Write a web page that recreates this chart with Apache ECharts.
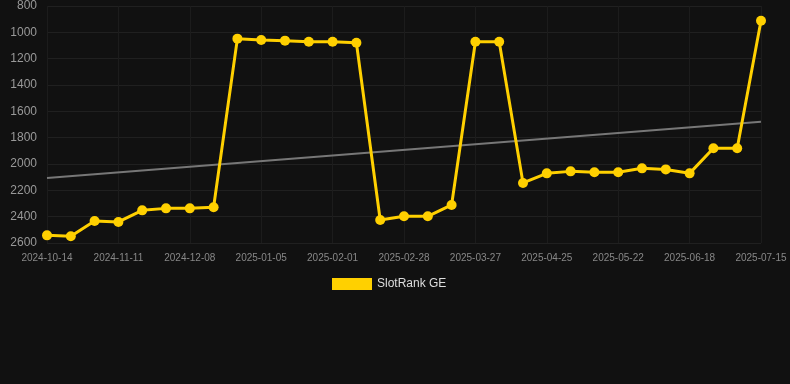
<!DOCTYPE html>
<html>
<head>
<meta charset="utf-8">
<script src="https://cdn.jsdelivr.net/npm/echarts@6/dist/echarts.min.js"></script>
<style>
  html, body { margin: 0; padding: 0; background: #111111; }
  #chart { width: 790px; height: 384px; }
</style>
</head>
<body>
<div id="chart"></div>
<script>
'use strict';

// dates of the points (every third one is labelled on the axis)
var dates = [
  '2024-10-14', '2024-10-23', '2024-11-01', '2024-11-11', '2024-11-20', '2024-11-29',
  '2024-12-08', '2024-12-17', '2024-12-26', '2025-01-05', '2025-01-14', '2025-01-23',
  '2025-02-01', '2025-02-10', '2025-02-19', '2025-02-28', '2025-03-09', '2025-03-18',
  '2025-03-27', '2025-04-05', '2025-04-15', '2025-04-25', '2025-05-04', '2025-05-13',
  '2025-05-22', '2025-05-31', '2025-06-09', '2025-06-18', '2025-06-27', '2025-07-06',
  '2025-07-15'
];

// rank values
var rankValues = [
  2542, 2549, 2433, 2440, 2352, 2337, 2337, 2329, 1048, 1058, 1063, 1071,
  1071, 1079, 2425, 2397, 2397, 2311, 1071, 1071, 2144, 2071, 2056, 2063,
  2063, 2033, 2041, 2071, 1881, 1881, 912
];

// trend line end points
var trendPoints = [['2024-10-14', 2106], ['2025-07-15', 1679]];

var seriesName = 'SlotRank GE';
var yellow = '#ffd000';
var fontFamily = '"Liberation Sans", Arial, sans-serif';

var option = {
    backgroundColor: '#111111',
    animation: false,
    textStyle: { fontFamily: fontFamily },
    grid: {
        left: 47,
        right: 29,
        top: 6,
        bottom: 141
    },
    legend: {
        left: 332,
        top: 278,
        padding: 0,
        itemWidth: 40,
        itemHeight: 12,
        itemGap: 10,
        icon: 'rect',
        textStyle: { color: '#dddddd', fontSize: 12, fontFamily: fontFamily },
        data: [seriesName]
    },
    xAxis: [{
        type: 'category',
        data: dates,
        boundaryGap: false,
        axisLine: { show: false },
        axisTick: { show: false },
        axisLabel: {
            interval: 2,
            color: '#888888',
            fontSize: 10,
            margin: 10
        },
        splitLine: {
            show: true,
            interval: 2,
            lineStyle: { color: '#1c1c1c', width: 1 }
        }
    }],
    yAxis: [{
        type: 'value',
        inverse: true,
        min: 800,
        max: 2600,
        interval: 200,
        axisLine: { show: false },
        axisTick: { show: false },
        axisLabel: {
            color: '#999999',
            fontSize: 12,
            margin: 10,
            formatter: function (value) {
                return String(value);
            }
        },
        splitLine: {
            lineStyle: { color: '#202020', width: 1 }
        }
    }],
    series: [{
        name: seriesName,
        type: 'line',
        data: rankValues,
        symbol: 'circle',
        symbolSize: 10,
        itemStyle: { color: yellow },
        lineStyle: { color: yellow, width: 3 },
        z: 3
    }, {
        name: 'trend',
        type: 'line',
        data: trendPoints,
        symbol: 'none',
        lineStyle: { color: '#777777', width: 2 },
        z: 2
    }]
};

echarts.init(document.getElementById('chart')).setOption(option);
</script>
</body>
</html>
